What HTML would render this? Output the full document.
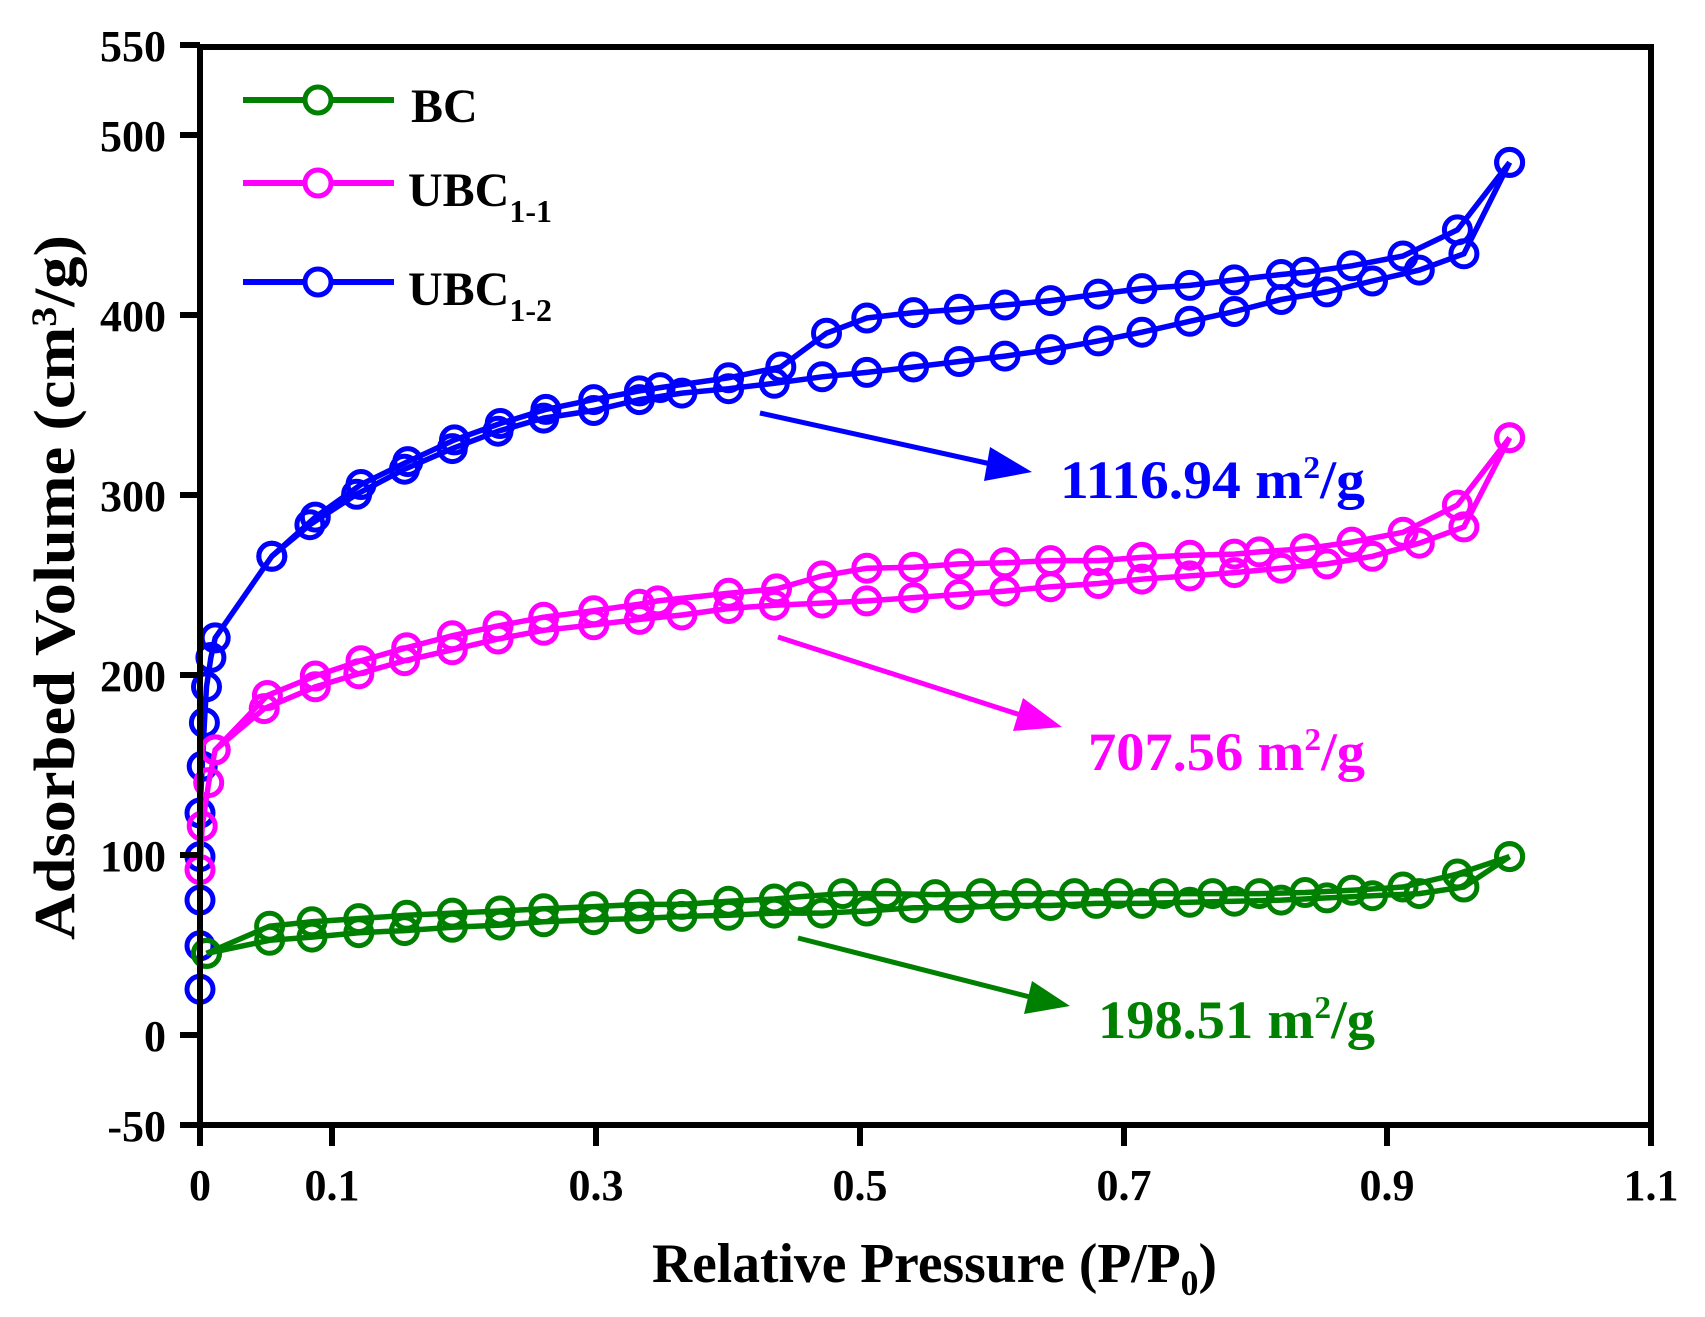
<!DOCTYPE html>
<html><head><meta charset="utf-8"><style>
html,body{margin:0;padding:0;background:#fff;}
svg{display:block;}
text{font-family:"Liberation Serif",serif;font-weight:bold;}
</style></head><body>
<svg id="s" width="1705" height="1317" viewBox="0 0 1705 1317" xmlns="http://www.w3.org/2000/svg">
<g id="data"></g>
<rect x="200" y="47" width="1451" height="1078" fill="none" stroke="#000" stroke-width="6"/>
<g stroke="#000" stroke-width="6">
<line x1="180" y1="45" x2="200" y2="45"/><line x1="180" y1="135" x2="200" y2="135"/>
<line x1="180" y1="315" x2="200" y2="315"/><line x1="180" y1="495" x2="200" y2="495"/>
<line x1="180" y1="675" x2="200" y2="675"/><line x1="180" y1="855" x2="200" y2="855"/>
<line x1="180" y1="1035" x2="200" y2="1035"/><line x1="180" y1="1125" x2="200" y2="1125"/>
<line x1="200" y1="1125" x2="200" y2="1146"/><line x1="332" y1="1125" x2="332" y2="1146"/>
<line x1="596" y1="1125" x2="596" y2="1146"/><line x1="860" y1="1125" x2="860" y2="1146"/>
<line x1="1124" y1="1125" x2="1124" y2="1146"/><line x1="1387" y1="1125" x2="1387" y2="1146"/>
<line x1="1651" y1="1125" x2="1651" y2="1146"/>
</g>
<g font-size="44" text-anchor="end" fill="#000">
<text x="166" y="61">550</text><text x="166" y="151">500</text><text x="166" y="331">400</text>
<text x="166" y="511">300</text><text x="166" y="691">200</text><text x="166" y="871">100</text>
<text x="166" y="1051">0</text><text x="166" y="1141">-50</text>
</g>
<g font-size="44" text-anchor="middle" fill="#000">
<text x="200" y="1200">0</text><text x="332" y="1200">0.1</text><text x="596" y="1200">0.3</text>
<text x="860" y="1200">0.5</text><text x="1124" y="1200">0.7</text><text x="1387" y="1200">0.9</text>
<text x="1651" y="1200">1.1</text>
</g>
<text x="652" y="1282" font-size="56" textLength="565" lengthAdjust="spacingAndGlyphs">Relative Pressure (P/P<tspan font-size="36" dy="13">0</tspan><tspan dy="-13">)</tspan></text>
<text transform="translate(74,940) rotate(-90)" font-size="58" textLength="705" lengthAdjust="spacingAndGlyphs">Adsorbed Volume (cm<tspan font-size="36" dy="-18">3</tspan><tspan dy="18">/g)</tspan></text>
<g stroke-width="6" fill="#fff">
<line x1="243" y1="100" x2="394" y2="100" stroke="#008000"/><circle cx="318" cy="100" r="13" stroke="#008000" stroke-width="5"/>
<line x1="243" y1="183" x2="394" y2="183" stroke="#ff00ff"/><circle cx="318" cy="183" r="13" stroke="#ff00ff" stroke-width="5"/>
<line x1="243" y1="282" x2="394" y2="282" stroke="#0000ff"/><circle cx="318" cy="282" r="13" stroke="#0000ff" stroke-width="5"/>
</g>
<g font-size="48" fill="#000">
<text x="411" y="122">BC</text>
<text x="408" y="206">UBC<tspan font-size="32" dy="16">1-1</tspan></text>
<text x="408" y="305">UBC<tspan font-size="32" dy="16">1-2</tspan></text>
</g>
<g stroke-width="5">
<line x1="760" y1="413" x2="1000" y2="466" stroke="#0000ff"/><polygon points="1032,472 990,447 984,481" fill="#0000ff"/>
<line x1="778" y1="637" x2="1030" y2="718" stroke="#ff00ff"/><polygon points="1062,727 1023,698 1013,731" fill="#ff00ff"/>
<line x1="798" y1="938" x2="1038" y2="999" stroke="#008000"/><polygon points="1070,1006 1032,981 1024,1014" fill="#008000"/>
</g>
<text x="1060" y="498" font-size="54" fill="#0000ff" textLength="305" lengthAdjust="spacingAndGlyphs">1116.94 m<tspan font-size="32" dy="-20">2</tspan><tspan dy="20">/g</tspan></text>
<text x="1088" y="770" font-size="54" fill="#ff00ff" textLength="277" lengthAdjust="spacingAndGlyphs">707.56 m<tspan font-size="32" dy="-20">2</tspan><tspan dy="20">/g</tspan></text>
<text x="1098" y="1038" font-size="54" fill="#008000" textLength="277" lengthAdjust="spacingAndGlyphs">198.51 m<tspan font-size="32" dy="-20">2</tspan><tspan dy="20">/g</tspan></text>
</svg>
<script>
(function(){
var X=function(x){return 200+(x-184)*1.0877;},Y=function(y){return 1035+(y-952)*1.088;};
var S=[
{c:"#0000ff",
a:[[184,910],[184,870],[184,828],[184,788],[184,748],[186,705],[188,665],[190,632],[194,605],[198,587],[250,512],[285,483],[328,455],[372,432],[416,413],[458,397],[500,385],[546,378],[588,368],[627,362],[670,358],[712,353],[756,347],[797,343],[840,338],[882,333],[924,328],[966,322],[1010,314],[1050,306],[1094,296],[1135,287],[1178,276],[1220,269],[1262,259],[1305,249],[1346,234],[1388,150]],
d:[[1388,150],[1340,212],[1290,236],[1243,245],[1200,251],[1178,253],[1135,258],[1094,263],[1050,266],[1010,271],[966,277],[924,281],[882,285],[840,288],[797,293],[760,307],[718,338],[670,348],[607,357],[588,360],[546,368],[502,377],[460,390],[418,405],[375,425],[332,446],[290,476],[250,512]]},
{c:"#ff00ff",
a:[[184,800],[186,760],[192,720],[198,690],[243,652],[290,632],[330,620],[372,608],[416,598],[458,588],[500,580],[546,575],[588,570],[627,566],[670,560],[712,557],[756,555],[797,553],[840,550],[882,547],[924,544],[966,540],[1010,537],[1050,533],[1094,530],[1135,527],[1178,523],[1220,519],[1262,512],[1305,500],[1346,485],[1388,403]],
d:[[1388,403],[1340,465],[1290,490],[1243,499],[1200,505],[1158,508],[1135,510],[1094,511],[1050,513],[1010,516],[966,516],[924,518],[882,519],[840,522],[797,523],[756,530],[714,542],[670,546],[605,553],[588,556],[546,562],[500,568],[458,576],[416,585],[374,596],[332,608],[290,622],[246,640],[198,690]]},
{c:"#008000",
a:[[190,877],[248,865],[287,862],[330,858],[372,856],[416,853],[460,851],[500,848],[546,846],[588,845],[627,843],[670,842],[712,840],[756,840],[797,838],[840,835],[882,835],[924,833],[966,833],[1008,831],[1050,831],[1094,830],[1135,829],[1178,828],[1220,826],[1262,824],[1305,822],[1346,816],[1388,788]],
d:[[1388,788],[1340,804],[1290,816],[1243,819],[1200,821],[1158,822],[1115,822],[1070,822],[1028,822],[988,822],[944,822],[902,822],[860,823],[815,822],[775,822],[735,825],[712,827],[670,829],[627,832],[588,832],[546,834],[500,836],[460,838],[416,840],[374,842],[330,845],[287,848],[248,852],[190,877]]}
];
var h="";
S.forEach(function(s){
 [s.a,s.d].forEach(function(p){
  h+='<polyline fill="none" stroke="'+s.c+'" stroke-width="5.5" points="'+p.map(function(q){return X(q[0]).toFixed(1)+","+Y(q[1]).toFixed(1);}).join(" ")+'"/>';
 });
 [s.a,s.d].forEach(function(p){p.forEach(function(q){
  h+='<circle cx="'+X(q[0]).toFixed(1)+'" cy="'+Y(q[1]).toFixed(1)+'" r="13" fill="none" stroke="'+s.c+'" stroke-width="5"/>';
 });});
});
document.getElementById("data").innerHTML=h;
})();
</script>
</body></html>
